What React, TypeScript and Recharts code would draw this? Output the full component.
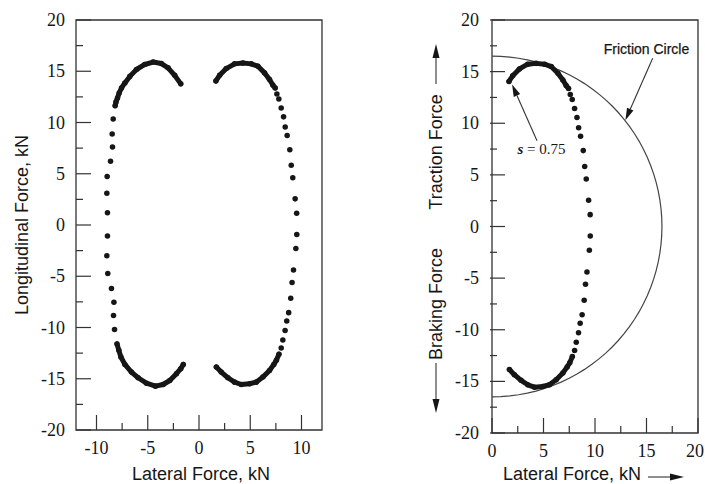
import React from 'react';
import { ScatterChart, Scatter, XAxis, YAxis, ZAxis, ReferenceArea, ReferenceLine, ReferenceDot } from 'recharts';

type Pt = { x: number; y: number };

// positive lateral side (same tyre data in both panels)
const posTopArc: Pt[] = [
  { x: 1.65, y: 14.05 }, { x: 2.01, y: 14.6 }, { x: 2.66, y: 15.26 }, { x: 3.47, y: 15.72 },
  { x: 4.28, y: 15.8 }, { x: 5.1, y: 15.72 }, { x: 5.75, y: 15.49 }, { x: 6.4, y: 14.84 },
  { x: 6.88, y: 14.19 }, { x: 7.2, y: 13.65 }, { x: 7.43, y: 13.37 },
];
const posFlank: Pt[] = [
  { x: 7.6, y: 12.79 }, { x: 7.79, y: 12.3 }, { x: 8.02, y: 11.42 }, { x: 8.25, y: 10.55 },
  { x: 8.41, y: 9.56 }, { x: 8.6, y: 8.74 }, { x: 8.86, y: 7.35 }, { x: 9.0, y: 5.82 },
  { x: 9.15, y: 4.6 }, { x: 9.38, y: 2.55 }, { x: 9.53, y: 1.15 }, { x: 9.54, y: -0.92 },
  { x: 9.45, y: -2.3 }, { x: 9.22, y: -4.4 }, { x: 9.08, y: -5.6 }, { x: 8.95, y: -7.15 },
  { x: 8.75, y: -8.55 }, { x: 8.56, y: -9.36 }, { x: 8.4, y: -10.3 }, { x: 8.18, y: -11.22 },
  { x: 8.02, y: -12.0 },
];
const posBottomArc: Pt[] = [
  { x: 7.8, y: -12.6 }, { x: 7.55, y: -13.2 }, { x: 7.3, y: -13.6 }, { x: 6.88, y: -14.19 },
  { x: 6.23, y: -14.84 }, { x: 5.58, y: -15.33 }, { x: 4.93, y: -15.49 }, { x: 4.12, y: -15.56 },
  { x: 3.47, y: -15.33 }, { x: 2.82, y: -14.9 }, { x: 2.17, y: -14.35 }, { x: 1.69, y: -13.86 },
];

// negative lateral side (left panel only)
const negTopArc: Pt[] = [
  { x: -1.78, y: 13.77 }, { x: -2.37, y: 14.6 }, { x: -3.02, y: 15.33 }, { x: -3.67, y: 15.75 },
  { x: -4.48, y: 15.9 }, { x: -5.29, y: 15.66 }, { x: -6.1, y: 15.17 }, { x: -6.75, y: 14.5 },
  { x: -7.23, y: 13.86 }, { x: -7.56, y: 13.37 }, { x: -7.79, y: 12.88 }, { x: -7.95, y: 12.4 },
  { x: -8.1, y: 12.0 }, { x: -8.18, y: 11.64 },
];
const negFlank: Pt[] = [
  { x: -8.37, y: 10.35 }, { x: -8.47, y: 8.87 }, { x: -8.44, y: 7.6 }, { x: -8.63, y: 6.23 },
  { x: -8.96, y: 4.73 }, { x: -8.99, y: 3.1 }, { x: -8.93, y: 1.2 }, { x: -8.93, y: -1.08 },
  { x: -8.99, y: -3.0 }, { x: -8.9, y: -4.73 }, { x: -8.54, y: -6.2 }, { x: -8.3, y: -7.53 },
  { x: -8.34, y: -8.84 }, { x: -8.24, y: -10.2 },
];
const negBottomArc: Pt[] = [
  { x: -8.0, y: -11.6 }, { x: -7.82, y: -12.23 }, { x: -7.62, y: -12.88 }, { x: -7.23, y: -13.6 },
  { x: -6.59, y: -14.35 }, { x: -5.94, y: -14.9 }, { x: -5.13, y: -15.43 }, { x: -4.25, y: -15.72 },
  { x: -3.5, y: -15.56 }, { x: -2.85, y: -15.17 }, { x: -2.2, y: -14.51 }, { x: -1.78, y: -14.02 },
  { x: -1.53, y: -13.6 },
];

const LEFT_X_TICKS = [-10, -7.5, -5, -2.5, 0, 2.5, 5, 7.5, 10];
const RIGHT_X_TICKS = [0, 2.5, 5, 7.5, 10, 12.5, 15, 17.5, 20];
const Y_TICKS = [-20, -17.5, -15, -12.5, -10, -7.5, -5, -2.5, 0, 2.5, 5, 7.5, 10, 12.5, 15, 17.5, 20];

const FRICTION_R = 16.5;
const CIRCLE_ANGLES = Array.from({ length: 61 }, (_, i) => 90 - i * 3);
const frictionCircle: Pt[] = CIRCLE_ANGLES.map((a) => ({
  x: FRICTION_R * Math.cos((a * Math.PI) / 180),
  y: FRICTION_R * Math.sin((a * Math.PI) / 180),
}));

const SERIF = '"Liberation Serif", "Times New Roman", serif';
const SANS = '"Liberation Sans", Arial, sans-serif';
const INK = '#161616';

const XTick = (p: any) => {
  const v = p.payload.value;
  const major = v % 5 === 0;
  // the last label of a panel sits on the page edge, keep it inside
  const atEdge = p.edgeValue !== undefined && v === p.edgeValue;
  return (
    <g>
      <line x1={p.x} x2={p.x} y1={p.y} y2={p.y - (major ? 15 : 7)} stroke="#333" strokeWidth={1.2} />
      {major && (
        <text
          x={atEdge ? p.x + 6 : p.x}
          y={p.y + 18}
          textAnchor={atEdge ? 'end' : 'middle'}
          dominantBaseline="central"
          fontFamily={SERIF}
          fontSize={18}
          fill={INK}
        >
          {v}
        </text>
      )}
    </g>
  );
};

const YTick = (p: any) => {
  const v = p.payload.value;
  const major = v % 5 === 0;
  return (
    <g>
      <line x1={p.x} x2={p.x + (major ? 15 : 7)} y1={p.y} y2={p.y} stroke="#333" strokeWidth={1.2} />
      {major && (
        <text x={p.x - 11} y={p.y} textAnchor="end" dominantBaseline="central" fontFamily={SERIF} fontSize={18} fill={INK}>
          {v}
        </text>
      )}
    </g>
  );
};

const arrowHead = (x1: number, y1: number, x2: number, y2: number, len = 12, half = 3.5) => {
  const a = Math.atan2(y2 - y1, x2 - x1);
  const bx = x2 - len * Math.cos(a);
  const by = y2 - len * Math.sin(a);
  const nx = -Math.sin(a) * half;
  const ny = Math.cos(a) * half;
  return (
    <g>
      <line x1={x1} y1={y1} x2={bx} y2={by} stroke="#333" strokeWidth={1.1} />
      <polygon points={`${x2},${y2} ${bx + nx},${by + ny} ${bx - nx},${by - ny}`} fill={INK} />
    </g>
  );
};

const arrowShape = (p: any) => arrowHead(p.x1, p.y1, p.x2, p.y2);

const leftYTitle = (props: any) => {
  const vb = props.viewBox ?? { x: 20, y: 20, width: 56, height: 410 };
  const cx = vb.x + vb.width - 54.5;
  const cy = vb.y + vb.height / 2;
  return (
    <text transform={`translate(${cx},${cy}) rotate(-90)`} textAnchor="middle" dominantBaseline="central" fontFamily={SANS} fontSize={18} fill={INK}>
      Longitudinal Force, kN
    </text>
  );
};

const leftXTitle = (props: any) => {
  const vb = props.viewBox ?? { x: 76, y: 430, width: 246, height: 40 };
  return (
    <text x={vb.x + vb.width / 2 + 2} y={vb.y + 44} textAnchor="middle" dominantBaseline="central" fontFamily={SANS} fontSize={18} fill={INK}>
      Lateral Force, kN
    </text>
  );
};

const rightYTitle = (props: any) => {
  const vb = props.viewBox ?? { x: 22, y: 20, width: 70, height: 413 };
  const cx = vb.x + vb.width - 56;
  return (
    <g>
      <text transform={`translate(${cx},152) rotate(-90)`} textAnchor="middle" dominantBaseline="central" fontFamily={SANS} fontSize={18} fill={INK}>
        Traction Force
      </text>
      {arrowHead(cx, 84, cx, 44, 14, 3.5)}
      <text transform={`translate(${cx},304) rotate(-90)`} textAnchor="middle" dominantBaseline="central" fontFamily={SANS} fontSize={18} fill={INK}>
        Braking Force
      </text>
      {arrowHead(cx, 363, cx, 413, 14, 3.5)}
    </g>
  );
};

const rightXTitle = (props: any) => {
  const vb = props.viewBox ?? { x: 92, y: 433, width: 206, height: 40 };
  return (
    <g>
      <text x={vb.x + 80} y={vb.y + 41} textAnchor="middle" dominantBaseline="central" fontFamily={SANS} fontSize={18} fill={INK}>
        Lateral Force, kN
      </text>
      {arrowHead(vb.x + 156, vb.y + 44, vb.x + 192, vb.y + 44, 14, 3.5)}
    </g>
  );
};

const dotSeries = (data: Pt[], key: string) => (
  <Scatter key={key} data={data} dataKey="y" fill={INK} shape="circle" isAnimationActive={false} />
);

const arcSeries = (data: Pt[], key: string) => (
  <Scatter
    key={key}
    data={data}
    dataKey="y"
    fill={INK}
    shape="circle"
    line={{ stroke: INK, strokeWidth: 5, strokeLinecap: 'round', strokeLinejoin: 'round' }}
    lineType="joint"
    isAnimationActive={false}
  />
);

export default function App() {
  return (
    <div style={{ position: 'absolute', left: 0, top: 0, width: 705, height: 484, background: '#fff', overflow: 'hidden' }}>
      <div style={{ position: 'absolute', left: 0, top: 0 }}>
        <ScatterChart width={330} height={484} margin={{ top: 20, right: 8, bottom: 14, left: 20 }}>
          <XAxis
            type="number"
            dataKey="x"
            domain={[-12, 12]}
            ticks={LEFT_X_TICKS}
            interval={0}
            axisLine={false}
            tickLine={false}
            tickSize={0}
            tickMargin={0}
            height={40}
            tick={XTick}
            allowDataOverflow
            label={leftXTitle}
          />
          <YAxis
            type="number"
            dataKey="y"
            domain={[-20, 20]}
            ticks={Y_TICKS}
            interval={0}
            axisLine={false}
            tickLine={false}
            tickSize={0}
            tickMargin={0}
            width={56}
            tick={YTick}
            allowDataOverflow
            label={leftYTitle}
          />
          <ZAxis range={[24, 24]} />
          <ReferenceArea x1={-12} x2={12} y1={-20} y2={20} fill="none" fillOpacity={0} stroke="#333" strokeWidth={1.3} />
          {arcSeries(negTopArc, 'nta')}
          {dotSeries(negFlank, 'nf')}
          {arcSeries(negBottomArc, 'nba')}
          {arcSeries(posTopArc, 'pta')}
          {dotSeries(posFlank, 'pf')}
          {arcSeries(posBottomArc, 'pba')}
        </ScatterChart>
      </div>

      <div style={{ position: 'absolute', left: 400, top: 0 }}>
        <ScatterChart width={305} height={484} margin={{ top: 20, right: 7, bottom: 11, left: 22 }}>
          <XAxis
            type="number"
            dataKey="x"
            domain={[0, 20]}
            ticks={RIGHT_X_TICKS}
            interval={0}
            axisLine={false}
            tickLine={false}
            tickSize={0}
            tickMargin={0}
            height={40}
            tick={(p: any) => <XTick {...p} edgeValue={20} />}
            allowDataOverflow
            label={rightXTitle}
          />
          <YAxis
            type="number"
            dataKey="y"
            domain={[-20, 20]}
            ticks={Y_TICKS}
            interval={0}
            axisLine={false}
            tickLine={false}
            tickSize={0}
            tickMargin={0}
            width={70}
            tick={(p: any) => <YTick {...p} x={p.x - 2} />}
            allowDataOverflow
            label={rightYTitle}
          />
          <ZAxis range={[24, 24]} />
          <ReferenceArea x1={0} x2={20} y1={-20} y2={20} fill="none" fillOpacity={0} stroke="#333" strokeWidth={1.3} />
          <Scatter
            data={frictionCircle}
            dataKey="y"
            line={{ stroke: '#444', strokeWidth: 1.2 }}
            lineType="joint"
            shape={() => <g />}
            isAnimationActive={false}
          />
          {arcSeries(posTopArc, 'pta')}
          {dotSeries(posFlank, 'pf')}
          {arcSeries(posBottomArc, 'pba')}
          <ReferenceLine segment={[{ x: 15.6, y: 16.3 }, { x: 12.95, y: 10.3 }]} shape={arrowShape} />
          <ReferenceLine segment={[{ x: 4.37, y: 8.3 }, { x: 1.95, y: 13.75 }]} shape={arrowShape} />
          <ReferenceDot
            x={15}
            y={17.2}
            shape={(p: any) => (
              <text x={p.cx} y={p.cy} textAnchor="middle" dominantBaseline="central" fontFamily={SANS} fontSize={14} fill={INK} stroke={INK} strokeWidth={0.25}>
                Friction Circle
              </text>
            )}
          />
          <ReferenceDot
            x={4.8}
            y={7.55}
            shape={(p: any) => (
              <text x={p.cx} y={p.cy} textAnchor="middle" dominantBaseline="central" fontFamily={SERIF} fontSize={15} fill={INK}>
                <tspan fontStyle="italic" fontWeight="bold">s</tspan> = 0.75
              </text>
            )}
          />
        </ScatterChart>
      </div>
    </div>
  );
}
